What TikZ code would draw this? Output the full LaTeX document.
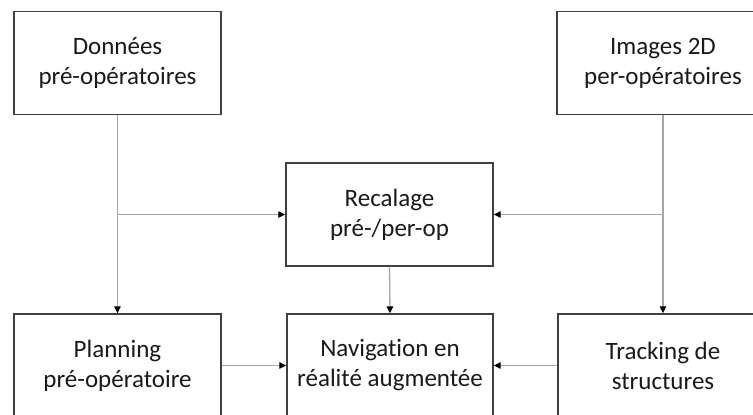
\documentclass[tikz,border=0pt]{standalone}
\usepackage{fontspec}
\setmainfont[Ligatures=NoCommon]{Carlito}
\usetikzlibrary{arrows.meta}
\definecolor{boxline}{HTML}{404040}
\definecolor{conn}{HTML}{A6A6A6}
\definecolor{txt}{HTML}{1A1A1A}
\begin{document}
\begin{tikzpicture}[x=1pt,y=-1pt,
  blk/.style={draw=boxline, line width=1.4pt, fill=white, align=center, text=txt,
    font=\fontsize{25}{30}\selectfont, inner sep=0pt, minimum height=103pt},
  conn/.style={draw=conn, line width=1.3pt, -{Triangle[length=7pt,width=6.5pt,color=black,fill=black]}}]
\useasboundingbox (0,0) rectangle (753,415);
\node[blk, minimum width=207pt] (A) at (117.5,63) {Données\\pré-opératoires};
\node[blk, minimum width=212pt] (B) at (663,63) {Images 2D\\per-opératoires};
\node[blk, minimum width=207pt] (R) at (389.5,214.5) {Recalage\\pré-/per-op};
\node[blk, minimum width=207pt] (P) at (117.5,365.5) {Planning\\pré-opératoire};
\node[blk, minimum width=206pt] (N) at (390,365.5) {Navigation en\\réalité augmentée};
\node[blk, minimum width=210pt] (T) at (663,365.5) {Tracking de\\structures};
\coordinate (jl) at (A.south |- R.west);
\coordinate (jr) at (B.south |- R.east);
\draw[conn] (A.south) -- (P.north);
\draw[conn] (jl) -- (R.west);
\draw[conn] (B.south) -- (T.north);
\draw[conn] (jr) -- (R.east);
\draw[conn] (R.south) -- (N.north);
\draw[conn] (P.east) -- (N.west);
\draw[conn] (T.west) -- (N.east);
\end{tikzpicture}
\end{document}
